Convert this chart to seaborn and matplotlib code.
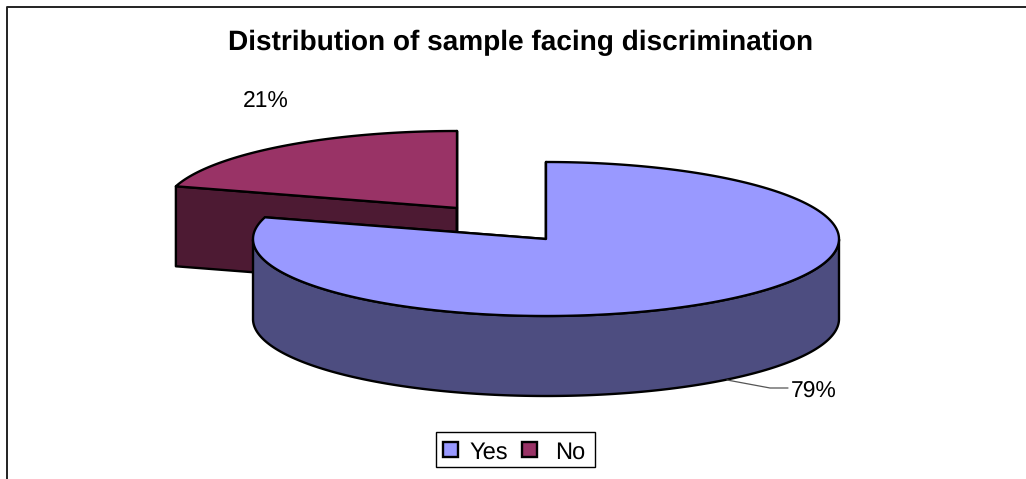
import numpy as np
import pandas as pd
import seaborn as sns
import matplotlib
matplotlib.use("Agg")
import matplotlib.pyplot as plt
from matplotlib.patches import Polygon, Rectangle
from matplotlib.lines import Line2D

# Survey shares
categories = ["Yes", "No"]
shares = [79, 21]
share_labels = ["79%", "21%"]
title_text = "Distribution of sample facing discrimination"

sns.set_theme(style="white")
plt.rcParams["font.family"] = ["Liberation Sans", "DejaVu Sans"]
plt.rcParams["text.hinting"] = "none"

palette = sns.color_palette(["#9999FF", "#993366"])
side_palette = sns.color_palette(["#4D4D80", "#4D1A33"])
table = pd.DataFrame({"category": categories, "share": shares})

W, H = 1026, 479
fig = plt.figure(figsize=(W / 100, H / 100), dpi=100, facecolor="white")
ax = fig.add_axes([0, 0, 1, 1])
ax.set_xlim(0, W)
ax.set_ylim(H, 0)
ax.axis("off")

RX, RY, DEPTH = 293, 77, 80
EDGE = dict(edgecolor="black", linewidth=1.7, joinstyle="round")


def projected(angle):
    """Slight foreshortening of the disc's angles under the 3D viewing tilt."""
    return angle - 4.1 * np.sin(np.radians(2 * angle))


def rim(cx, cy, a0, a1, n=240):
    """Ellipse points for clockwise angles measured from 12 o'clock."""
    t = np.radians(np.linspace(projected(a0), projected(a1), n))
    return np.column_stack([cx + RX * np.sin(t), cy - RY * np.cos(t)])


def draw_slice(cx, cy, a0, a1, top, side, z):
    outer = rim(cx, cy, a0, a1)
    centre = np.array([[cx, cy]])
    drop = np.array([0, DEPTH])
    # Sides: cut faces first, then the visible part of the outer wall.
    for angle in (a0, a1):
        p = rim(cx, cy, angle, angle, 1)[0]
        ax.add_patch(Polygon([centre[0], p, p + drop, centre[0] + drop],
                             facecolor=side, zorder=z, **EDGE))
    t = np.linspace(a0, a1, 480)
    front = t[(np.mod(t, 360) >= 90) & (np.mod(t, 360) <= 270)]
    if front.size:
        wall = rim(cx, cy, front[0], front[-1])
        ax.add_patch(Polygon(np.vstack([wall, (wall + drop)[::-1]]),
                             facecolor=side, zorder=z + 0.1, **EDGE))
    ax.add_patch(Polygon(np.vstack([centre, outer]), facecolor=top,
                         zorder=z + 0.2, **EDGE))


# Turn the shares into sweep angles, with the "No" slice pulled out to the upper left.
sweep = table["share"].to_numpy() / table["share"].sum() * 360
yes_end = sweep[0]
draw_slice(457, 208, yes_end, 360, palette[1], side_palette[1], 2)

# "Yes" sits in front of the exploded slice.
draw_slice(546, 239, 0, yes_end, palette[0], side_palette[0], 3)

# Leader line and value labels
ax.add_line(Line2D([727, 770, 788], [380, 388, 388], color="#555555", lw=0.9, zorder=5))
ax.text(791, 388, share_labels[0], fontsize=16.5, color="black", va="center_baseline", ha="left")
ax.text(243, 99, share_labels[1], fontsize=16.5, color="black", va="center_baseline", ha="left")

ax.text(521, 40, title_text, fontsize=20.2, fontweight="bold", color="black",
        ha="center", va="center_baseline")

# Chart frame: open at the right and bottom
ax.add_line(Line2D([7, 7, W], [H, 6.5, 6.5], color="#222222", lw=1.4, zorder=1))

# Legend box with swatches
ax.add_patch(Rectangle((435.5, 431.5), 159, 35, facecolor="white", edgecolor="black", lw=1, zorder=5))
for x0, colour, label, tx in zip([443, 522], palette, categories, [469, 555]):
    ax.add_patch(Rectangle((x0, 442), 15, 15, facecolor=colour, edgecolor="black", lw=1.7, zorder=6))
    ax.text(tx, 450, label, fontsize=17, color="black", va="center_baseline", ha="left", zorder=6)

fig.savefig("out.png", dpi=100, facecolor="white")
